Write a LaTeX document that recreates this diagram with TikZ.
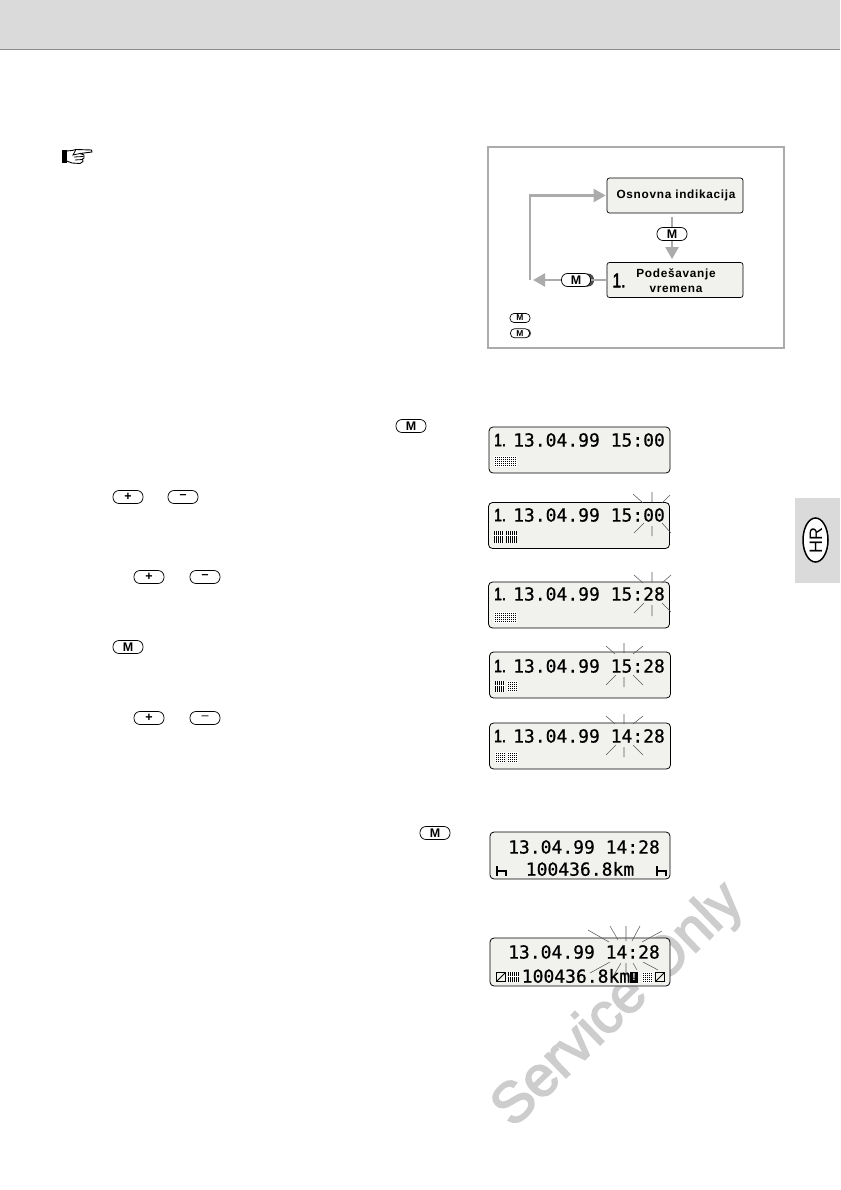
\documentclass[tikz,border=0pt]{standalone}
\usepackage{fontspec}
\setmainfont{Liberation Sans}
\newfontfamily\lcdfont[FakeBold=0.6]{DejaVu Sans Mono}
\newfontfamily\spacedfont[LetterSpace=6]{Liberation Sans}
\newfontfamily\markfont[FakeBold=3]{Liberation Sans}
\newfontfamily\narrowfont[FakeStretch=0.78,FakeBold=2.2]{Liberation Sans}
\usetikzlibrary{arrows.meta,shapes.geometric}
\definecolor{flowgray}{HTML}{ABABAB}
\definecolor{panelfill}{HTML}{F1F1EE}
\definecolor{headgray}{HTML}{DADADA}
\definecolor{markgray}{HTML}{CDCDCD}
\tikzset{
  flow/.style={draw=flowgray,line width=2.4pt},
  flowarrow/.style={flow,-{Triangle[width=13pt,length=12pt]}},
  statebox/.style={draw=black,line width=.7pt,rounded corners=2.5pt,fill=panelfill,minimum width=136pt,minimum height=35pt,inner sep=0pt},
  boxtext/.style={font=\spacedfont\bfseries\fontsize{11.8}{14.5}\selectfont,align=center,inner sep=0pt},
  btn/.style={draw=black,line width=.75pt,rounded corners=6pt,fill=white,minimum width=30pt,minimum height=13pt,inner sep=0pt,font=\bfseries\fontsize{12.5}{12.5}\selectfont},
  minibtn/.style={draw=black,line width=.7pt,rounded corners=4pt,fill=white,minimum width=20pt,minimum height=9pt,inner sep=0pt,font=\bfseries\fontsize{8.5}{8.5}\selectfont},
  lcdbox/.style={draw=black,line width=.8pt,rounded corners=4pt,fill=panelfill,minimum width=181pt,minimum height=46pt,inner sep=0pt},
  lcdtext/.style={font=\lcdfont\fontsize{18}{20}\selectfont,inner sep=0pt},
  lcdone/.style={font=\narrowfont\fontsize{18}{20}\selectfont,inner sep=0pt},
  ray/.style={draw=black!65,line width=.55pt},
  slashbox/.style={draw=black,line width=1.2pt,minimum width=9.5pt,minimum height=9.5pt,inner sep=0pt,path picture={\draw[line width=1pt] (path picture bounding box.south west)--(path picture bounding box.north east);}},
}
\newcommand{\dotcell}[4]{\fill[black] (#1,#2) rectangle (#3,#4);
  \begin{scope}\clip (#1,#2) rectangle (#3,#4);
  \foreach \k in {0,2,...,24}{\draw[white,line width=.42pt] (#1+\k+.5,#2)--(#1+\k+.5,#4);}
  \foreach \k in {0,2,...,14}{\draw[white,line width=.42pt] (#1,#2+\k+.5)--(#3,#2+\k+.5);}
  \end{scope}}
\newcommand{\stripecell}[4]{\fill[black] (#1,#2) rectangle (#3,#4);
  \begin{scope}\clip (#1,#2) rectangle (#3,#4);
  \foreach \k in {0,2,...,24}{\draw[white,line width=.6pt] (#1+\k+1,#2)--(#1+\k+1,#4);}
  \draw[white,line width=.6pt] (#1,#2+4)--(#3,#2+4);
  \end{scope}}
\newcommand{\hbarmark}[2]{\draw[black,line width=1.4pt] (#1,#2-5)--(#1,#2+5) (#1,#2)--(#1+9,#2)--(#1+9,#2+5);}
\begin{document}
\begin{tikzpicture}[x=1pt,y=-1pt]
\useasboundingbox (0,0) rectangle (840,1190);
% watermark
\node[text=markgray,rotate=44,inner sep=0pt,font=\markfont\fontsize{57}{57}\selectfont] (watermark) at (619,1006) {Service Only};
% header
\fill[headgray] (0,0) rectangle (840,49);
\draw[black!45,line width=1pt] (0,49.5)--(840,49.5);
% side tab
\fill[headgray] (795,498) rectangle (840,583);
\node[draw=black,line width=1.5pt,fill=white,ellipse,minimum width=25pt,minimum height=44pt,inner sep=0pt] (hrmark) at (815.5,540) {};
\node[rotate=90,inner sep=0pt,font=\fontsize{18}{18}\selectfont] (hrtext) at (816,540) {HR};
% pointing hand
\fill[black] (62,150) rectangle (66.5,163);
\draw[black,line width=.9pt,fill=white,line join=round] (66.5,151) -- (72,150.5) -- (76,149.5) -- (91.5,150) -- (92,152) -- (80,153.5) -- (84,155) -- (84,158) -- (82.5,159) -- (83,161.5) -- (80,163.5) -- (72,163) -- (66.5,161) -- cycle;
\draw[black,line width=.8pt] (76,149.5) -- (73,155) -- (80,153.5) (74,157) -- (83.5,156.5) (75,160) -- (82.5,159.5);
% panel
\node[draw=flowgray,line width=1.4pt,minimum width=296pt,minimum height=201pt,inner sep=0pt] (panel) at (636,247.5) {};
\node[statebox] (box1) at (675,195.5) {};
\node[statebox] (box2) at (675,280) {};
\node[boxtext] (box1t) at (676,195) {Osnovna indikacija};
\node[boxtext] (box2t) at (676,280.5) {Podešavanje\\vremena};
\node[inner sep=0pt,font=\narrowfont\fontsize{20}{20}\selectfont] (box2n) at (619,280.5) {1.};
\coordinate (fstart) at (530,280);
\coordinate (ftip) at (533,280);
% M buttons in panel
\node[btn] (m1) at (672,234) {M};
\fill[black!70,rounded corners=6pt] (563,273.5) rectangle (594,286.5);
\node[btn,minimum width=29pt] (m2) at (576,280) {M};
% connectors
\draw[flow] ([yshift=-3.5pt]box1.south -| m1) -- (m1.north);
\draw[flowarrow,shorten >=3pt] (m1.south) -- (m1 |- box2.north);
\draw[flowarrow,shorten >=1pt] (fstart) |- (box1.west);
\draw[flow] (box2.west) -- (m2.east);
\draw[flowarrow] (m2.west) -- (ftip);
% legend
\node[minibtn] (lg1) at (520,318) {M};
\fill[black!70,rounded corners=4pt] (511,329) rectangle (531,337.5);
\node[minibtn,minimum width=19pt] (lg2) at (520,333.3) {M};
% text buttons
\node[btn] (bt1) at (411,426) {M};
\node[btn] (bt2) at (128,497) {+};
\node[btn] (bt3) at (183,497) {\textbf{--}};
\node[btn] (bt4) at (149,577) {+};
\node[btn] (bt5) at (205,577) {\textbf{--}};
\node[btn] (bt6) at (128,647) {M};
\node[btn] (bt7) at (149,718) {+};
\node[btn,font=\fontsize{12.5}{12.5}\selectfont] (bt8) at (205,718) {--};
\node[btn] (bt9) at (435,833) {M};
% display 1
\node[lcdbox] (d1) at (579.5,450) {};
\node[lcdone] (d1n) at (500,440) {1.};
\node[lcdtext] (d1t) at (589,440) {13.04.99 15:00};
\dotcell{494}{456}{517}{467}
% display 2
\node[lcdbox] (d2) at (579,525.5) {};
\node[lcdone] (d2n) at (500,515) {1.};
\node[lcdtext] (d2t) at (589,515) {13.04.99 15:00};
\stripecell{494}{531}{504}{543}
\stripecell{506}{531}{517}{543}
\draw[ray] (633,494)--(643,503) (652,492)--(652,502) (670,495)--(662,503) (634,533)--(644,523) (652,526)--(652,536) (662,523)--(671,533);
% display 3
\node[lcdbox] (d3) at (579,605) {};
\node[lcdone] (d3n) at (500,594) {1.};
\node[lcdtext] (d3t) at (589,594) {13.04.99 15:28};
\dotcell{494}{612}{517}{622.5}
\draw[ray] (634,575)--(643,583) (652,572)--(652,582) (671,575)--(662,583) (634,613)--(644,603) (652,605)--(652,616) (662,603)--(671,612);
% display 4
\node[lcdbox] (d4) at (580,675) {};
\node[lcdone] (d4n) at (500,666) {1.};
\node[lcdtext] (d4t) at (589,666) {13.04.99 15:28};
\stripecell{495}{681}{505}{692}
\dotcell{507}{681}{518}{692}
\draw[ray] (606,646)--(615,654) (624,643)--(624,653) (643,646)--(633,654) (606,685)--(616,675) (624,677)--(624,687) (633,675)--(643,685);
% display 5
\node[lcdbox] (d5) at (580,746) {};
\node[lcdone] (d5n) at (500,736) {1.};
\node[lcdtext] (d5t) at (589,736) {13.04.99 14:28};
\dotcell{495}{752}{505}{762.5}
\dotcell{507}{752}{518}{762.5}
\draw[ray] (606,716)--(615,724) (624,714)--(624,724) (643,716)--(633,724) (606,755)--(616,745) (624,747)--(624,757) (633,745)--(643,755);
% display 6
\node[lcdbox,minimum width=180pt,minimum height=47pt] (d6) at (580,855.5) {};
\node[lcdtext] (d6a) at (584,847) {13.04.99 14:28};
\node[lcdtext] (d6b) at (580,869) {100436.8km};
\hbarmark{497}{871}
\hbarmark{657}{871}
% display 7
\node[lcdbox,minimum width=180pt,minimum height=48pt] (d7) at (580,962) {};
\node[lcdtext] (d7a) at (584,952) {13.04.99 14:28};
\node[lcdtext] (d7b) at (576,976) {100436.8km};
\node[slashbox] (d7s1) at (501,977) {};
\stripecell{508}{972}{519}{982}
\node[fill=black,minimum width=8.5pt,minimum height=11pt,inner sep=0pt,text=white,font=\bfseries\fontsize{10}{10}\selectfont] (d7ex) at (634,977) {!};
\dotcell{642}{972}{653}{982}
\node[slashbox] (d7s2) at (660,977) {};
\draw[ray] (588,930)--(609,942) (610,926)--(618,940) (626,926)--(626,941) (640,926)--(632,941) (662,931)--(642,942) (610,962)--(590,973) (621,963)--(614,975) (626,963)--(626,975) (633,963)--(637,970) (643,962)--(658,970);
\end{tikzpicture}
\end{document}
